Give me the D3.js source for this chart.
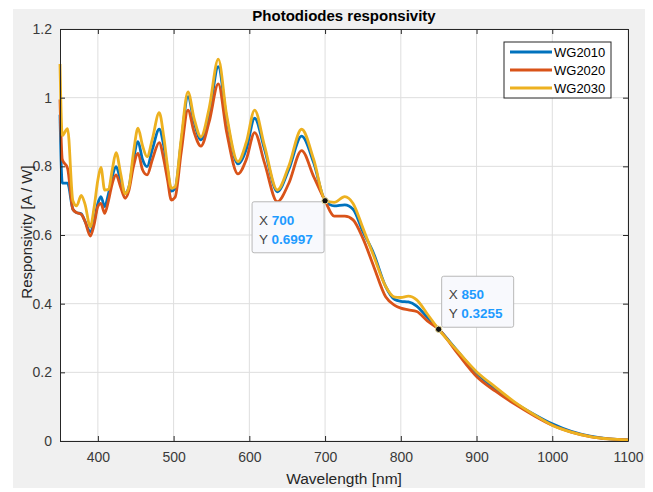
<!DOCTYPE html>
<html>
    <head>
        <title>Photodiodes responsivity</title>
        <style>
            html, body { margin: 0; padding: 0; background: #ffffff; }
            text { font-family: "Liberation Sans", Arial, sans-serif; }
        </style>
        <script src="https://d3js.org/d3.v7.min.js"></script>
    </head>
    <body>
        <div id="chart"></div>
        <script type="text/javascript">
            // wavelength grid [nm] and responsivity [A/W]
            var wavelength = [350, 353, 360, 367, 372, 378, 383, 390, 395, 400, 404, 409, 414, 419, 424, 430, 436, 441, 447, 453,
                              459, 465, 472, 481, 487, 492, 497, 502, 510, 519, 527, 536, 547, 559, 570, 585, 596, 607, 620, 637,
                              652, 669, 685, 700, 712, 726, 737, 750, 764, 780, 792, 800, 810, 821, 835, 850, 875, 900, 925, 950,
                              975, 1000, 1025, 1050, 1075, 1100];
            var wg2010 = [0.95, 0.751, 0.751, 0.675, 0.665, 0.662, 0.64, 0.61, 0.64, 0.692, 0.712, 0.683, 0.72, 0.77, 0.799, 0.76, 0.721, 0.74, 0.82, 0.872,
                          0.82, 0.799, 0.85, 0.908, 0.86, 0.79, 0.728, 0.735, 0.87, 1.003, 0.93, 0.877, 0.95, 1.09, 0.94, 0.807, 0.85, 0.94, 0.85, 0.726,
                          0.79, 0.888, 0.81, 0.70, 0.685, 0.688, 0.675, 0.61, 0.547, 0.45, 0.412, 0.407, 0.405, 0.393, 0.36, 0.326, 0.262, 0.198, 0.152, 0.112,
                          0.079, 0.05, 0.028, 0.014, 0.006, 0.003];
            var wg2020 = [0.995, 0.82, 0.794, 0.675, 0.665, 0.66, 0.64, 0.597, 0.63, 0.683, 0.692, 0.663, 0.70, 0.75, 0.775, 0.74, 0.707, 0.73, 0.80, 0.838,
                          0.79, 0.775, 0.82, 0.869, 0.82, 0.76, 0.702, 0.71, 0.84, 0.964, 0.90, 0.859, 0.93, 1.04, 0.90, 0.778, 0.82, 0.898, 0.81, 0.697,
                          0.75, 0.846, 0.77, 0.70, 0.655, 0.655, 0.644, 0.59, 0.51, 0.42, 0.395, 0.387, 0.382, 0.377, 0.35, 0.3255, 0.255, 0.188, 0.145, 0.108,
                          0.075, 0.046, 0.026, 0.013, 0.006, 0.003];
            var wg2030 = [1.098, 0.89, 0.91, 0.70, 0.685, 0.715, 0.69, 0.624, 0.68, 0.76, 0.797, 0.731, 0.733, 0.79, 0.84, 0.78, 0.72, 0.74, 0.84, 0.911,
                          0.86, 0.828, 0.88, 0.956, 0.886, 0.80, 0.736, 0.74, 0.88, 1.017, 0.94, 0.886, 0.97, 1.112, 0.95, 0.814, 0.87, 0.964, 0.86, 0.731,
                          0.80, 0.908, 0.82, 0.702, 0.695, 0.712, 0.692, 0.62, 0.54, 0.45, 0.419, 0.418, 0.422, 0.411, 0.37, 0.325, 0.262, 0.202, 0.157, 0.114,
                          0.078, 0.046, 0.026, 0.013, 0.006, 0.003];

            var seriesNames = ["WG2010", "WG2020", "WG2030"];
            var seriesColors = ["#0072BD", "#D95319", "#EDB120"];
            var xTicks = [400, 500, 600, 700, 800, 900, 1000, 1100];
            var yTicks = [0, 0.2, 0.4, 0.6, 0.8, 1, 1.2];
            var datatips = [{ x: 700, y: 0.6997, dx: -73, dy: 1 }, { x: 850, y: 0.3255, dx: 3, dy: -53 }];

            var W = 653, H = 492;
            var svg = d3.select("#chart").append("svg")
                .attr("width", W)
                .attr("height", H);

            // figure background
            svg.append("rect").attr("x", 13).attr("y", 9).attr("width", 632).attr("height", 479).attr("fill", "#f0f0f0");

            var x = d3.scaleLinear().domain([350, 1100]).range([60, 628]);
            var y = d3.scaleLinear().domain([0, 1.2]).range([441, 29]);

            svg.append("rect")
                .attr("x", x(350)).attr("y", y(1.2))
                .attr("width", x(1100) - x(350)).attr("height", y(0) - y(1.2))
                .attr("fill", "#ffffff");

            // grid
            svg.append("g").selectAll("line").data(xTicks).enter().append("line")
                .attr("x1", d => x(d)).attr("x2", d => x(d))
                .attr("y1", y(0)).attr("y2", y(1.2))
                .attr("stroke", "#dedede").attr("stroke-width", 1);
            svg.append("g").selectAll("line").data(yTicks).enter().append("line")
                .attr("x1", x(350)).attr("x2", x(1100))
                .attr("y1", d => y(d)).attr("y2", d => y(d))
                .attr("stroke", "#dedede").attr("stroke-width", 1);

            // curves
            var series = [wg2010, wg2020, wg2030];
            var line = d3.line()
                .x((d, i) => x(wavelength[i]))
                .y(d => y(d))
                .curve(d3.curveMonotoneX);
            svg.append("g").selectAll("path").data(series).enter().append("path")
                .attr("d", d => line(d))
                .attr("fill", "none")
                .attr("stroke", (d, i) => seriesColors[i])
                .attr("stroke-width", 2.8)
                .attr("stroke-linejoin", "round");

            // axes with inward ticks
            var axisColor = "#262626";
            var gx = svg.append("g").attr("transform", "translate(0," + y(0) + ")")
                .call(d3.axisBottom(x).tickValues(xTicks).tickFormat(d3.format("d")).tickSizeInner(-5).tickSizeOuter(0).tickPadding(11));
            var gy = svg.append("g").attr("transform", "translate(" + x(350) + ",0)")
                .call(d3.axisLeft(y).tickValues(yTicks).tickFormat(d3.format("")).tickSizeInner(-5).tickSizeOuter(0).tickPadding(8));
            var gt = svg.append("g").attr("transform", "translate(0," + y(1.2) + ")")
                .call(d3.axisTop(x).tickValues(xTicks).tickFormat("").tickSizeInner(-5).tickSizeOuter(0));
            var gr = svg.append("g").attr("transform", "translate(" + x(1100) + ",0)")
                .call(d3.axisRight(y).tickValues(yTicks).tickFormat("").tickSizeInner(-5).tickSizeOuter(0));
            [gx, gy, gt, gr].forEach(function (g) {
                g.select(".domain").attr("stroke", axisColor);
                g.selectAll(".tick line").attr("stroke", axisColor);
                g.selectAll(".tick text").attr("fill", "#3a3a3a")
                    .style("font-family", "'Liberation Sans', Arial, sans-serif")
                    .style("font-size", "14px");
            });

            // titles
            svg.append("text").attr("x", (x(350) + x(1100)) / 2).attr("y", 21)
                .attr("text-anchor", "middle").attr("font-weight", "bold").attr("font-size", "15px").attr("fill", "#000")
                .text("Photodiodes responsivity");
            svg.append("text").attr("x", (x(350) + x(1100)) / 2).attr("y", 484)
                .attr("text-anchor", "middle").attr("font-size", "15.5px").attr("fill", axisColor)
                .text("Wavelength [nm]");
            svg.append("text").attr("transform", "translate(32," + 232 + ") rotate(-90)")
                .attr("text-anchor", "middle").attr("font-size", "15px").attr("fill", axisColor)
                .text("Responsivity [A / W]");

            // legend
            var lg = svg.append("g").attr("transform", "translate(504,42)");
            lg.append("rect").attr("width", 107).attr("height", 56)
                .attr("fill", "#ffffff").attr("stroke", axisColor).attr("stroke-width", 1);
            seriesNames.forEach(function (name, i) {
                var ly = 10 + i * 18;
                lg.append("line").attr("x1", 6).attr("x2", 48).attr("y1", ly).attr("y2", ly)
                    .attr("stroke", seriesColors[i]).attr("stroke-width", 2.8);
                lg.append("text").attr("x", 50).attr("y", ly + 4.5)
                    .attr("font-size", "13px").attr("fill", "#000").text(name);
            });

            // data tips
            datatips.forEach(function (t) {
                var px = x(t.x), py = y(t.y);
                var g = svg.append("g").attr("transform", "translate(" + (px + t.dx) + "," + (py + t.dy) + ")");
                g.append("rect").attr("width", 72).attr("height", 51).attr("rx", 2)
                    .attr("fill", "#f8f9fd").attr("stroke", "#b8b8b8").attr("stroke-width", 1);
                var tx = g.append("text").attr("x", 7).attr("y", 23).attr("font-size", "13.5px");
                tx.append("tspan").attr("fill", "#444").text("X ");
                tx.append("tspan").attr("fill", "#1e9bff").attr("font-weight", "bold").text(t.x);
                var ty = g.append("text").attr("x", 7).attr("y", 42).attr("font-size", "13.5px");
                ty.append("tspan").attr("fill", "#444").text("Y ");
                ty.append("tspan").attr("fill", "#1e9bff").attr("font-weight", "bold").text(t.y);
                svg.append("circle").attr("cx", px).attr("cy", py).attr("r", 3.2)
                    .attr("fill", "#111").attr("stroke", "#f3e3a0").attr("stroke-width", 1);
            });
        </script>
    </body>
</html>
